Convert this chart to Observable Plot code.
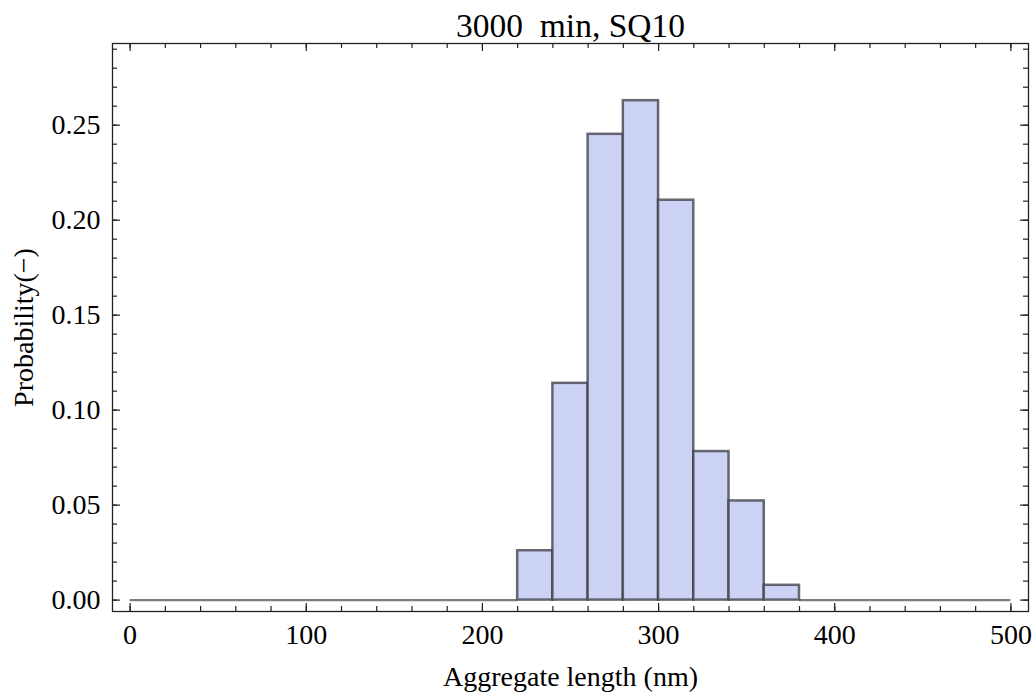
<!DOCTYPE html>
<html>
<head>
<meta charset="utf-8">
<script src="https://cdn.jsdelivr.net/npm/d3@7"></script>
<script src="https://cdn.jsdelivr.net/npm/@observablehq/plot@0.6"></script>
<style>
  html, body { margin: 0; padding: 0; background: #fff; }
  #chart svg { display: block; }
</style>
</head>
<body>
<div id="chart"></div>
<script>
// ---- data ----
const titleText = "3000  min, SQ10";
const xLabelText = "Aggregate length (nm)";
const yLabelText = "Probability(\u2212)";

const binStarts = [0, 20, 40, 60, 80, 100, 120, 140, 160, 180, 200, 220, 240, 260, 280, 300, 320, 340, 360, 380, 400, 420, 440, 460, 480];
const binWidth = 20;
const probabilities = [0, 0, 0, 0, 0, 0, 0, 0, 0, 0, 0, 0.0260, 0.1141, 0.2452, 0.2629, 0.2105, 0.0782, 0.0522, 0.0078, 0, 0, 0, 0, 0, 0];

const xMajorTicks = [0, 100, 200, 300, 400, 500];
const xMinorTicks = [0, 20, 40, 60, 80, 100, 120, 140, 160, 180, 200, 220, 240, 260, 280, 300, 320, 340, 360, 380, 400, 420, 440, 460, 480, 500];
const yMajorTicks = [0, 0.05, 0.10, 0.15, 0.20, 0.25];
const yMinorTicks = [0, 0.01, 0.02, 0.03, 0.04, 0.05, 0.06, 0.07, 0.08, 0.09, 0.10, 0.11, 0.12, 0.13, 0.14, 0.15, 0.16, 0.17, 0.18, 0.19, 0.20, 0.21, 0.22, 0.23, 0.24, 0.25, 0.26, 0.27, 0.28, 0.29];

// ---- table ----
const bins = binStarts.map((s, i) => ({x0: s, x1: s + binWidth, p: probabilities[i]}));
const filled = bins.filter(d => d.p > 0);
const empty = bins.filter(d => d.p === 0);

// ---- layout ----
const W = 1033, H = 697;
const mL = 112, mR = 5, mT = 43, mB = 86;
const plotW = W - mL - mR, plotH = H - mT - mB;
const font = "Liberation Serif, Times New Roman, serif";
const inkColor = "#222";
const majorLen = 8, minorLen = 5;

const chart = Plot.plot({
  width: W,
  height: H,
  marginLeft: mL,
  marginRight: mR,
  marginTop: mT,
  marginBottom: mB,
  style: {fontFamily: font, background: "#fff", color: "#000"},
  x: {domain: [-10, 510], axis: null},
  y: {domain: [-0.006, 0.293], axis: null},
  marks: [
    // zero-height bins drawn as flat edges
    Plot.ruleY(empty, {x1: "x0", x2: "x1", y: "p", stroke: "#444", strokeOpacity: 0.7, strokeWidth: 2.4}),
    Plot.rectY(filled, {x1: "x0", x2: "x1", y: "p", fill: "#ccd2f4", stroke: "#3a3a44", strokeOpacity: 0.75, strokeWidth: 2.5}),
    Plot.frame({stroke: inkColor, strokeWidth: 1.3}),
    // inward ticks: bottom
    Plot.tickX(xMajorTicks, {x: d => d, insetTop: plotH - majorLen, stroke: inkColor, strokeWidth: 1.2}),
    Plot.tickX(xMinorTicks, {x: d => d, insetTop: plotH - minorLen, stroke: inkColor, strokeWidth: 1.2}),
    // top
    Plot.tickX(xMajorTicks, {x: d => d, insetBottom: plotH - majorLen, stroke: inkColor, strokeWidth: 1.2}),
    Plot.tickX(xMinorTicks, {x: d => d, insetBottom: plotH - minorLen, stroke: inkColor, strokeWidth: 1.2}),
    // left
    Plot.tickY(yMajorTicks, {y: d => d, insetRight: plotW - majorLen, stroke: inkColor, strokeWidth: 1.2}),
    Plot.tickY(yMinorTicks, {y: d => d, insetRight: plotW - minorLen, stroke: inkColor, strokeWidth: 1.2}),
    // right
    Plot.tickY(yMajorTicks, {y: d => d, insetLeft: plotW - majorLen, stroke: inkColor, strokeWidth: 1.2}),
    Plot.tickY(yMinorTicks, {y: d => d, insetLeft: plotW - minorLen, stroke: inkColor, strokeWidth: 1.2}),
    // tick labels
    Plot.axisX({anchor: "bottom", ticks: xMajorTicks, tickSize: 0, tickPadding: 13, tickFormat: d3.format("d"), fontSize: 28, fill: "#000", label: null}),
    Plot.axisY({anchor: "left", ticks: yMajorTicks, tickSize: 0, tickPadding: 12, tickFormat: d3.format(".2f"), fontSize: 28, fill: "#000", label: null}),
    // title and axis labels
    Plot.text([titleText], {frameAnchor: "top", dy: -7, lineAnchor: "bottom", textAnchor: "middle", fontSize: 33.5, fill: "#000"}),
    Plot.text([xLabelText], {frameAnchor: "bottom", dy: 74, lineAnchor: "bottom", textAnchor: "middle", fontSize: 28, fill: "#000"}),
    Plot.text([yLabelText], {frameAnchor: "left", dx: -80, rotate: -90, lineAnchor: "bottom", textAnchor: "middle", fontSize: 28, fill: "#000"})
  ]
});
document.getElementById("chart").appendChild(chart);
</script>
</body>
</html>
